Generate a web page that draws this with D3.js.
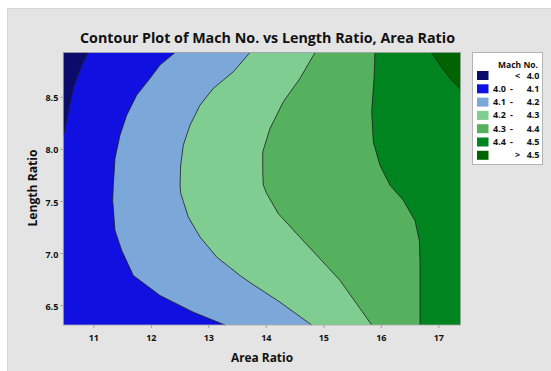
<!DOCTYPE html>
<html><head><meta charset="utf-8">
<script src="https://cdn.jsdelivr.net/npm/d3@7"></script>
<style>
html,body{margin:0;padding:0;background:#fff;}
text{font-family:"Open Sans","DejaVu Sans",sans-serif;fill:#111;}
</style></head>
<body><svg id="c" width="551" height="371"></svg>
<script>
// ---- data ----
const xTicks = [11, 12, 13, 14, 15, 16, 17];
const yTicks = [6.5, 7.0, 7.5, 8.0, 8.5];
const xDomain = [10.478, 17.386];
const yDomain = [6.31, 8.925];
const levels = ["< 4.0", "4.0 - 4.1", "4.1 - 4.2", "4.2 - 4.3", "4.3 - 4.4", "4.4 - 4.5", "> 4.5"];
const colors = ["#0b0b6c", "#1010e0", "#7ca8d9", "#80cd91", "#55b15d", "#00841f", "#006500"];
// contour boundaries [Area Ratio, Length Ratio]
const c40 = [[10.91,8.925],[10.80,8.805],[10.65,8.584],[10.565,8.356],[10.49,8.151],[10.478,8.132]];
const c41 = [[12.42,8.925],[12.16,8.805],[11.986,8.677],[11.755,8.516],[11.581,8.324],[11.464,8.132],[11.377,7.908],[11.348,7.651],[11.337,7.507],[11.377,7.218],[11.494,7.025],[11.696,6.785],[12.16,6.593],[12.739,6.433],[13.29,6.31]];
const c42 = [[13.725,8.925],[13.435,8.74],[13.087,8.581],[12.856,8.42],[12.682,8.228],[12.565,8.036],[12.52,7.843],[12.508,7.651],[12.52,7.574],[12.652,7.346],[12.856,7.154],[13.146,6.962],[13.551,6.785],[13.725,6.718],[14.247,6.529],[14.798,6.31]];
const c43 = [[14.856,8.925],[14.595,8.677],[14.304,8.452],[14.073,8.196],[13.946,7.971],[13.946,7.779],[13.957,7.651],[14.016,7.571],[14.217,7.379],[14.537,7.187],[14.943,6.946],[15.29,6.738],[15.581,6.513],[15.842,6.31]];
const c44 = [[15.899,8.925],[15.882,8.677],[15.842,8.356],[15.87,8.067],[15.986,7.843],[16.16,7.651],[16.391,7.507],[16.595,7.311],[16.67,7.122],[16.682,6.898],[16.682,6.31]];
const c45 = [[16.885,8.925],[17.03,8.805],[17.204,8.677],[17.386,8.574]];

// ---- drawing ----
const svg = d3.select("#c");
svg.append("rect").attr("x",7.5).attr("y",8.5).attr("width",560).attr("height",380)
  .attr("fill","#e4e4e4").attr("stroke","#d6d6d6");

const x = d3.scaleLinear().domain(xDomain).range([63.3, 460.5]);
const y = d3.scaleLinear().domain(yDomain).range([325, 52.5]);
const [x0,x1] = xDomain, [y0,y1] = yDomain;
const line = d3.line().x(d=>x(d[0])).y(d=>y(d[1]));

const g = svg.append("g");
g.append("rect").attr("x",x(x0)).attr("y",y(y1)).attr("width",x(x1)-x(x0)).attr("height",y(y0)-y(y1)).attr("fill",colors[1]);
g.append("path").attr("d", line(c40.concat([[x0,y1]])) + "Z").attr("fill",colors[0]);
[[c41,2],[c42,3],[c43,4],[c44,5]].forEach(([c,i])=>{
  g.append("path").attr("d", line(c.concat([[x1,y0],[x1,y1]])) + "Z").attr("fill",colors[i]);
});
g.append("path").attr("d", line(c45.concat([[x1,y1]])) + "Z").attr("fill",colors[6]);
[c40,c41,c42,c43,c44,c45].forEach(c=>{
  g.append("path").attr("d", line(c)).attr("fill","none").attr("stroke","#1e1e1e").attr("stroke-width",0.8);
});
g.append("rect").attr("x",x(x0)).attr("y",y(y1)).attr("width",x(x1)-x(x0)).attr("height",y(y0)-y(y1))
  .attr("fill","none").attr("stroke","#a8a8a8").attr("stroke-width",0.8);

// axes
const xa = svg.append("g").attr("transform",`translate(0,${y(y0)})`)
  .call(d3.axisBottom(x).tickValues(xTicks).tickSize(3).tickPadding(7).tickFormat(d3.format("d")));
const ya = svg.append("g").attr("transform",`translate(${x(x0)},0)`)
  .call(d3.axisLeft(y).tickValues(yTicks).tickSize(3).tickPadding(2).tickFormat(d3.format(".1f")));
[xa,ya].forEach(a=>{
  a.select(".domain").remove();
  a.selectAll(".tick line").attr("stroke","#a0a0a0");
  a.selectAll(".tick text").style("font-family",'"Open Sans",sans-serif').style("font-size","9px").style("font-weight","700").attr("fill","#111");
});
ya.selectAll(".tick text").attr("dy","0.45em");

// title and axis labels
svg.append("text").attr("x",267.5).attr("y",43).attr("text-anchor","middle")
  .style("font-size","15px").style("font-weight","700")
  .attr("textLength",375).attr("lengthAdjust","spacingAndGlyphs")
  .text("Contour Plot of Mach No. vs Length Ratio, Area Ratio");
svg.append("text").attr("x",262).attr("y",362).attr("text-anchor","middle")
  .style("font-size","12px").style("font-weight","700")
  .attr("textLength",62).attr("lengthAdjust","spacingAndGlyphs").text("Area Ratio");
svg.append("text").attr("transform","translate(37,188) rotate(-90)").attr("text-anchor","middle")
  .style("font-size","12px").style("font-weight","700")
  .attr("textLength",77).attr("lengthAdjust","spacingAndGlyphs").text("Length Ratio");

// legend
const lg = svg.append("g");
lg.append("rect").attr("x",472.5).attr("y",52.5).attr("width",70).attr("height",112)
  .attr("fill","#ffffff").attr("stroke","#b4b4b4");
lg.append("text").attr("x",538).attr("y",68).attr("text-anchor","end")
  .style("font-size","8.5px").style("font-weight","700").text("Mach No.");
const fs = "9px", fw = "700";
levels.forEach((lab,i)=>{
  const cy = 75.5 + i*13.3;
  lg.append("rect").attr("x",477).attr("y",cy-4.5).attr("width",11.5).attr("height",9).attr("fill",colors[i]);
  const parts = lab.split(" ");
  if (parts.length === 2) {
    lg.append("text").attr("x",515).attr("y",cy+3).style("font-size",fs).style("font-weight",fw).text(parts[0]);
    lg.append("text").attr("x",539.5).attr("y",cy+3).attr("text-anchor","end").style("font-size",fs).style("font-weight",fw).text(parts[1]);
  } else {
    lg.append("text").attr("x",493).attr("y",cy+3).style("font-size",fs).style("font-weight",fw).text(parts[0]);
    lg.append("text").attr("x",510).attr("y",cy+3).style("font-size",fs).style("font-weight",fw).text(parts[1]);
    lg.append("text").attr("x",539.5).attr("y",cy+3).attr("text-anchor","end").style("font-size",fs).style("font-weight",fw).text(parts[2]);
  }
});
</script></body></html>
